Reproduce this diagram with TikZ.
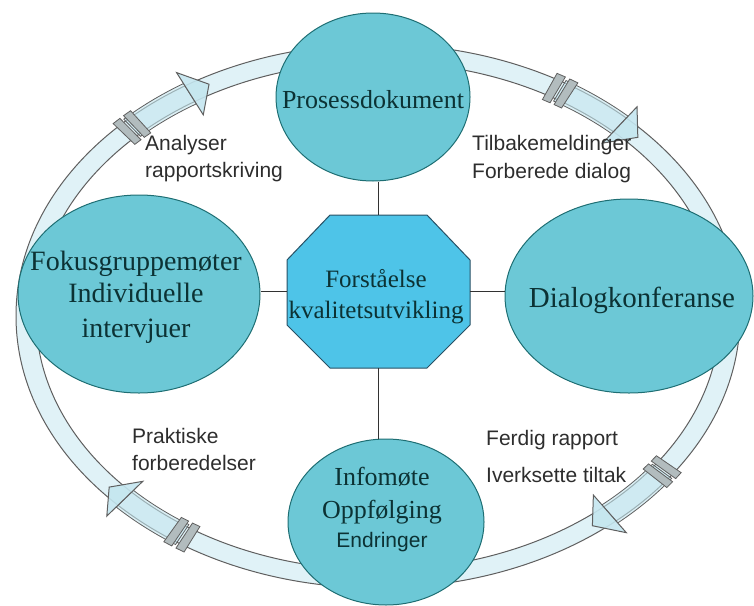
\documentclass[tikz,border=0pt]{standalone}
\usepackage{fontspec}
\setmainfont{Liberation Serif}
\setsansfont{Liberation Sans}
\usetikzlibrary{shapes.geometric}
\definecolor{bubfill}{RGB}{108,200,214}
\definecolor{bubline}{RGB}{30,110,115}
\definecolor{octfill}{RGB}{78,196,232}
\definecolor{octline}{RGB}{40,80,100}
\definecolor{bubtext}{RGB}{12,50,52}
\definecolor{labtext}{RGB}{45,45,45}
\definecolor{bandfill}{RGB}{224,242,247}
\definecolor{bandline}{RGB}{95,95,95}
\definecolor{shaftfill}{RGB}{196,230,239}
\definecolor{jointfill}{RGB}{178,188,190}
\definecolor{connline}{RGB}{50,50,50}
\newcommand\ringarrow[3]{%
 \filldraw[shaftst] plot[domain=#1:#2,samples=16] ({378+364*cos(\x)},{316-275*sin(\x)}) -- plot[domain=#2:#1,samples=16] ({378+340*cos(\x)},{316-251*sin(\x)}) -- cycle;
 \filldraw[headst] ({378+377*cos(#2)},{316-288*sin(#2)}) -- ({378+353*cos(#3)},{316-264*sin(#3)}) -- ({378+327*cos(#2)},{316-238*sin(#2)}) -- cycle;
 \filldraw[jointst] ({378+367*cos(#1-1.9)},{316-278*sin(#1-1.9)}) -- ({378+337*cos(#1-1.9)},{316-248*sin(#1-1.9)}) -- ({378+337*cos(#1-0.4)},{316-248*sin(#1-0.4)}) -- ({378+367*cos(#1-0.4)},{316-278*sin(#1-0.4)}) -- cycle;
 \filldraw[jointst] ({378+367*cos(#1+0.4)},{316-278*sin(#1+0.4)}) -- ({378+337*cos(#1+0.4)},{316-248*sin(#1+0.4)}) -- ({378+337*cos(#1+1.9)},{316-248*sin(#1+1.9)}) -- ({378+367*cos(#1+1.9)},{316-278*sin(#1+1.9)}) -- cycle;
}
\begin{document}
\begin{tikzpicture}[x=1pt,y=-1pt,
  bub/.style={ellipse, draw=bubline, fill=bubfill, line width=1pt, inner sep=0pt},
  serif/.style={text=bubtext, inner sep=0pt, anchor=base},
  lab/.style={text=labtext, inner sep=0pt, anchor=base west, font=\sffamily\fontsize{21}{25}\selectfont},
  conn/.style={draw=connline, line width=1.2pt},
  shaftst/.style={draw=bandline, line width=0.8pt, fill=shaftfill, fill opacity=0.6},
  headst/.style={draw=bandline, line width=1pt, fill=shaftfill, fill opacity=0.9},
  jointst/.style={draw=bandline, line width=0.8pt, fill=jointfill}
]
\useasboundingbox (0,0) rectangle (754,605);
% ring band
\fill[bandfill, even odd rule] (378,316) ellipse [x radius=362pt, y radius=272pt] (378,316) ellipse [x radius=342pt, y radius=254pt];
\draw[bandline, line width=1pt] (378,316) ellipse [x radius=362pt, y radius=272pt];
\draw[bandline, line width=1pt] (378,316) ellipse [x radius=342pt, y radius=254pt];
% arrows on the ring
\ringarrow{134.3}{122.3}{118.6}
\ringarrow{58.9}{46.6}{42.6}
\ringarrow{-36.2}{-48.8}{-52.6}
\ringarrow{-123.8}{-136}{-139.6}
% ellipses
\node[bub, minimum width=194pt, minimum height=168pt] (proc) at (373,97) {};
\node[bub, minimum width=242pt, minimum height=198pt] (fokus) at (139,294) {};
\node[bub, minimum width=248pt, minimum height=194pt] (dial) at (629,296) {};
\node[bub, minimum width=196pt, minimum height=166pt] (info) at (386,522) {};
% octagon
\filldraw[fill=octfill, draw=octline, line width=1pt] (330,215) -- (427,215) -- (470,260) -- (470,325) -- (427,368) -- (330,368) -- (287,325) -- (287,260) -- cycle;
\node[inner sep=0pt, minimum width=183pt, minimum height=153pt] (oct) at (378.5,291.5) {};
% connectors
\draw[conn] (oct.north) -- (oct.north |- proc.south);
\draw[conn] (oct.south) -- (oct.south |- info.north);
\draw[conn] (oct.west) -- (oct.west -| fokus.east);
\draw[conn] (oct.east) -- (oct.east -| dial.west);
% ellipse texts
\node[serif, font=\fontsize{26}{30}\selectfont] (tproc) at (373,108) {Prosessdokument};
\node[serif, font=\fontsize{29}{33}\selectfont] (tdial) at (632,307) {Dialogkonferanse};
\node[serif, font=\fontsize{28}{33}\selectfont] (tfok1) at (136,270) {Fokusgruppemøter};
\node[serif, font=\fontsize{28}{33}\selectfont] (tfok2) at (136,302) {Individuelle};
\node[serif, font=\fontsize{28}{33}\selectfont] (tfok3) at (136,337) {intervjuer};
\node[serif, font=\fontsize{25}{30}\selectfont] (toct1) at (376,287) {Forståelse};
\node[serif, font=\fontsize{25}{30}\selectfont] (toct2) at (376,318) {kvalitetsutvikling};
\node[serif, font=\fontsize{26}{30}\selectfont] (tinf1) at (382,485) {Infomøte};
\node[serif, font=\fontsize{26}{30}\selectfont] (tinf2) at (382,518) {Oppfølging};
\node[serif, font=\sffamily\fontsize{21}{25}\selectfont] (tinf3) at (382,547) {Endringer};
% labels
\node[lab] (l1a) at (145,150) {Analyser};
\node[lab] (l1b) at (145,177) {rapportskriving};
\node[lab] (l2a) at (472,150) {Tilbakemeldinger};
\node[lab] (l2b) at (472,178) {Forberede dialog};
\node[lab] (l3a) at (486,445) {Ferdig rapport};
\node[lab] (l3b) at (486,482) {Iverksette tiltak};
\node[lab] (l4a) at (132,443) {Praktiske};
\node[lab] (l4b) at (132,470) {forberedelser};
\end{tikzpicture}
\end{document}
